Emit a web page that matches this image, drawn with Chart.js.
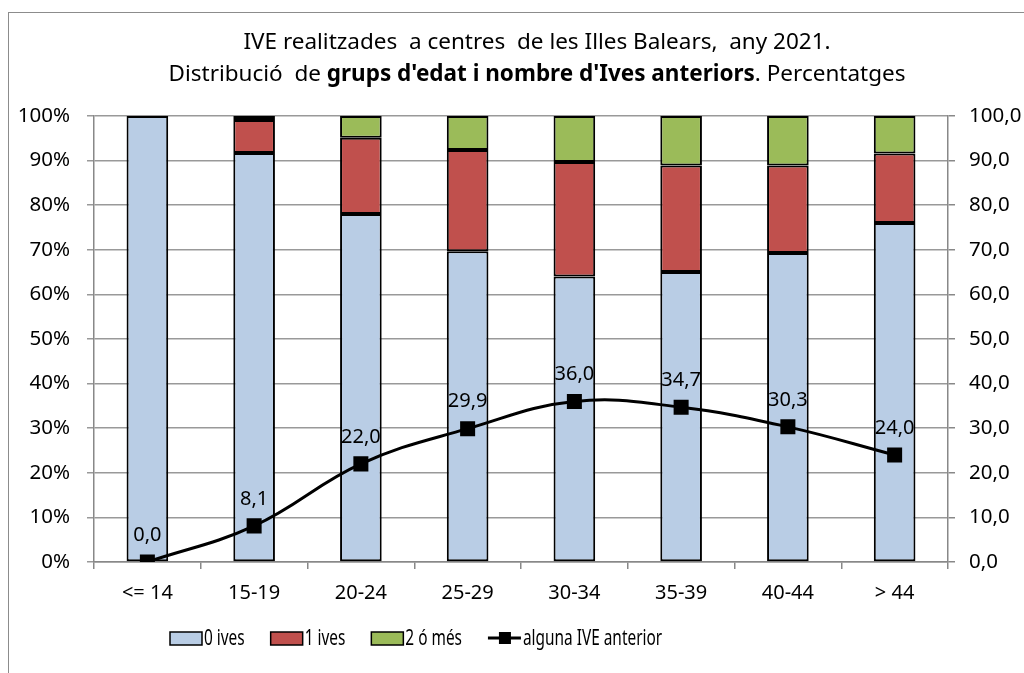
<!DOCTYPE html>
<html>
<head>
<meta charset="utf-8">
<script src="https://cdn.jsdelivr.net/npm/chart.js@4/dist/chart.umd.min.js"></script>
<style>
    html, body { margin: 0; padding: 0; background: #fff; overflow: hidden; }
    #frame { position: absolute; left: 8px; top: 12px; width: 1100px; height: 800px; border: 1px solid #8c8c8c; }
    #wrap { position: absolute; left: 0; top: 0; width: 1024px; height: 673px; }
</style>
</head>
<body>
<div id="frame"></div>
<div id="wrap"><canvas id="chart" width="1024" height="673"></canvas></div>
<script>
const ageGroups = ['<= 14', '15-19', '20-24', '25-29', '30-34', '35-39', '40-44', '> 44']
const zeroIves = [100, 91.7, 78.0, 69.7, 64.0, 65.0, 69.3, 76.0]
const oneIves = [0, 7.4, 17.1, 22.7, 25.7, 23.9, 19.6, 15.6]
const twoOrMore = [0, 0.9, 4.9, 7.6, 10.3, 11.1, 11.1, 8.4]
const anyPrevious = [0.0, 8.1, 22.0, 29.9, 36.0, 34.7, 30.3, 24.0]

const titleLine1 = 'IVE realitzades  a centres  de les Illes Balears,  any 2021.'
const titleLine2 = [
    { text: 'Distribució  de ', bold: false },
    { text: "grups d'edat i nombre d'Ives anteriors", bold: true },
    { text: '. Percentatges', bold: false },
]

const FONT = '"Noto Sans", sans-serif'

const titlePlugin = {
    id: 'twoLineTitle',
    afterDraw(chart) {
        const ctx = chart.ctx
        const cx = 537
        ctx.save()
        ctx.fillStyle = '#000'
        ctx.textBaseline = 'alphabetic'
        ctx.font = '22.5px ' + FONT
        ctx.textAlign = 'center'
        ctx.fillText(titleLine1, cx, 49)

        ctx.textAlign = 'left'
        let total = 0
        titleLine2.forEach((p) => {
            ctx.font = (p.bold ? 'bold ' : '') + '22.5px ' + FONT
            p.w = ctx.measureText(p.text).width
            total += p.w
        })
        let x = cx - total / 2
        titleLine2.forEach((p) => {
            ctx.font = (p.bold ? 'bold ' : '') + '22.5px ' + FONT
            ctx.fillText(p.text, x, 81)
            x += p.w
        })
        ctx.restore()
    },
}

// value labels above the line points
const lineLabels = {
    id: 'lineLabels',
    afterDatasetsDraw(chart) {
        const ctx = chart.ctx
        const meta = chart.getDatasetMeta(3)
        ctx.save()
        ctx.font = '20px ' + FONT
        ctx.fillStyle = '#000'
        ctx.textAlign = 'center'
        ctx.textBaseline = 'middle'
        meta.data.forEach((pt, i) => {
            ctx.fillText(anyPrevious[i].toFixed(1).replace('.', ','), pt.x, pt.y - 27)
        })
        ctx.restore()
    },
}

// legend text in the original is narrow, so squeeze it horizontally
const legendPlugin = {
    id: 'customLegend',
    afterDraw(chart) {
        const ctx = chart.ctx
        const y = 638
        const squeeze = 0.7
        let x = 170
        ctx.save()
        ctx.font = '22px ' + FONT
        ctx.textBaseline = 'middle'
        ctx.textAlign = 'left'
        chart.data.datasets.forEach((ds) => {
            if (ds.type === 'line') {
                ctx.strokeStyle = '#000'
                ctx.lineWidth = 3
                ctx.beginPath()
                ctx.moveTo(x, y)
                ctx.lineTo(x + 33, y)
                ctx.stroke()
                ctx.fillStyle = '#000'
                ctx.fillRect(x + 11, y - 6, 12, 12)
                x += 35
            } else {
                ctx.fillStyle = ds.backgroundColor
                ctx.fillRect(x, y - 6, 32, 13)
                ctx.strokeStyle = '#000'
                ctx.lineWidth = 1.5
                ctx.strokeRect(x, y - 6, 32, 13)
                x += 34
            }
            ctx.fillStyle = '#000'
            ctx.save()
            ctx.translate(x, y + 1)
            ctx.scale(squeeze, 1)
            ctx.fillText(ds.label, 0, 0)
            ctx.restore()
            x += ctx.measureText(ds.label).width * squeeze + 26
        })
        ctx.restore()
    },
}

const barStyle = {
    borderColor: '#000',
    borderWidth: 2,
    borderSkipped: false,
    barPercentage: 0.39,
    categoryPercentage: 1,
    yAxisID: 'y',
    stack: 'bars',
}

const config = {
    type: 'bar',
    data: {
        labels: ageGroups,
        datasets: [
            { ...barStyle, label: '0 ives', data: zeroIves, backgroundColor: '#B9CDE5', order: 2 },
            { ...barStyle, label: '1 ives', data: oneIves, backgroundColor: '#C0504D', order: 2 },
            { ...barStyle, label: '2 ó més', data: twoOrMore, backgroundColor: '#9BBB59', order: 2 },
            {
                type: 'line',
                label: 'alguna IVE anterior',
                data: anyPrevious,
                yAxisID: 'y2',
                borderColor: '#000',
                borderWidth: 3,
                tension: 0.4,
                pointStyle: 'rect',
                pointRadius: 8.5,
                pointBackgroundColor: '#000',
                pointBorderColor: '#000',
                order: 1,
            },
        ],
    },
    options: {
        responsive: false,
        animation: false,
        layout: { padding: { top: 116, left: 0, right: 0, bottom: 0 } },
        plugins: {
            legend: { display: false },
            title: { display: false },
            tooltip: { enabled: false },
        },
        scales: {
            x: {
                stacked: true,
                grid: { offset: true, drawOnChartArea: false, tickLength: 7, color: '#888', lineWidth: 1.5 },
                border: { color: '#888', width: 1.5 },
                ticks: { color: '#000', font: { family: FONT, size: 20 }, padding: 12, maxRotation: 0 },
                afterFit(scale) { scale.height = 111 },
            },
            y: {
                stacked: true,
                min: 0,
                max: 100,
                ticks: { stepSize: 10, color: '#000', font: { family: FONT, size: 20.5 }, padding: 17, callback: (v) => v + '%' },
                grid: { color: '#999', lineWidth: 1.5, tickLength: 7 },
                border: { color: '#888', width: 1.5 },
                afterFit(scale) { scale.width = 94 },
            },
            y2: {
                position: 'right',
                min: 0,
                max: 100,
                ticks: {
                    stepSize: 10,
                    color: '#000',
                    font: { family: FONT, size: 20.5 },
                    padding: 14,
                    callback: (v) => v.toFixed(1).replace('.', ','),
                },
                grid: { drawOnChartArea: false, color: '#888', lineWidth: 1.5, tickLength: 7 },
                border: { color: '#888', width: 1.5 },
                afterFit(scale) { scale.width = 76 },
            },
        },
    },
    plugins: [titlePlugin, lineLabels, legendPlugin],
}

new Chart(document.getElementById('chart').getContext('2d'), config)
</script>
</body>
</html>
